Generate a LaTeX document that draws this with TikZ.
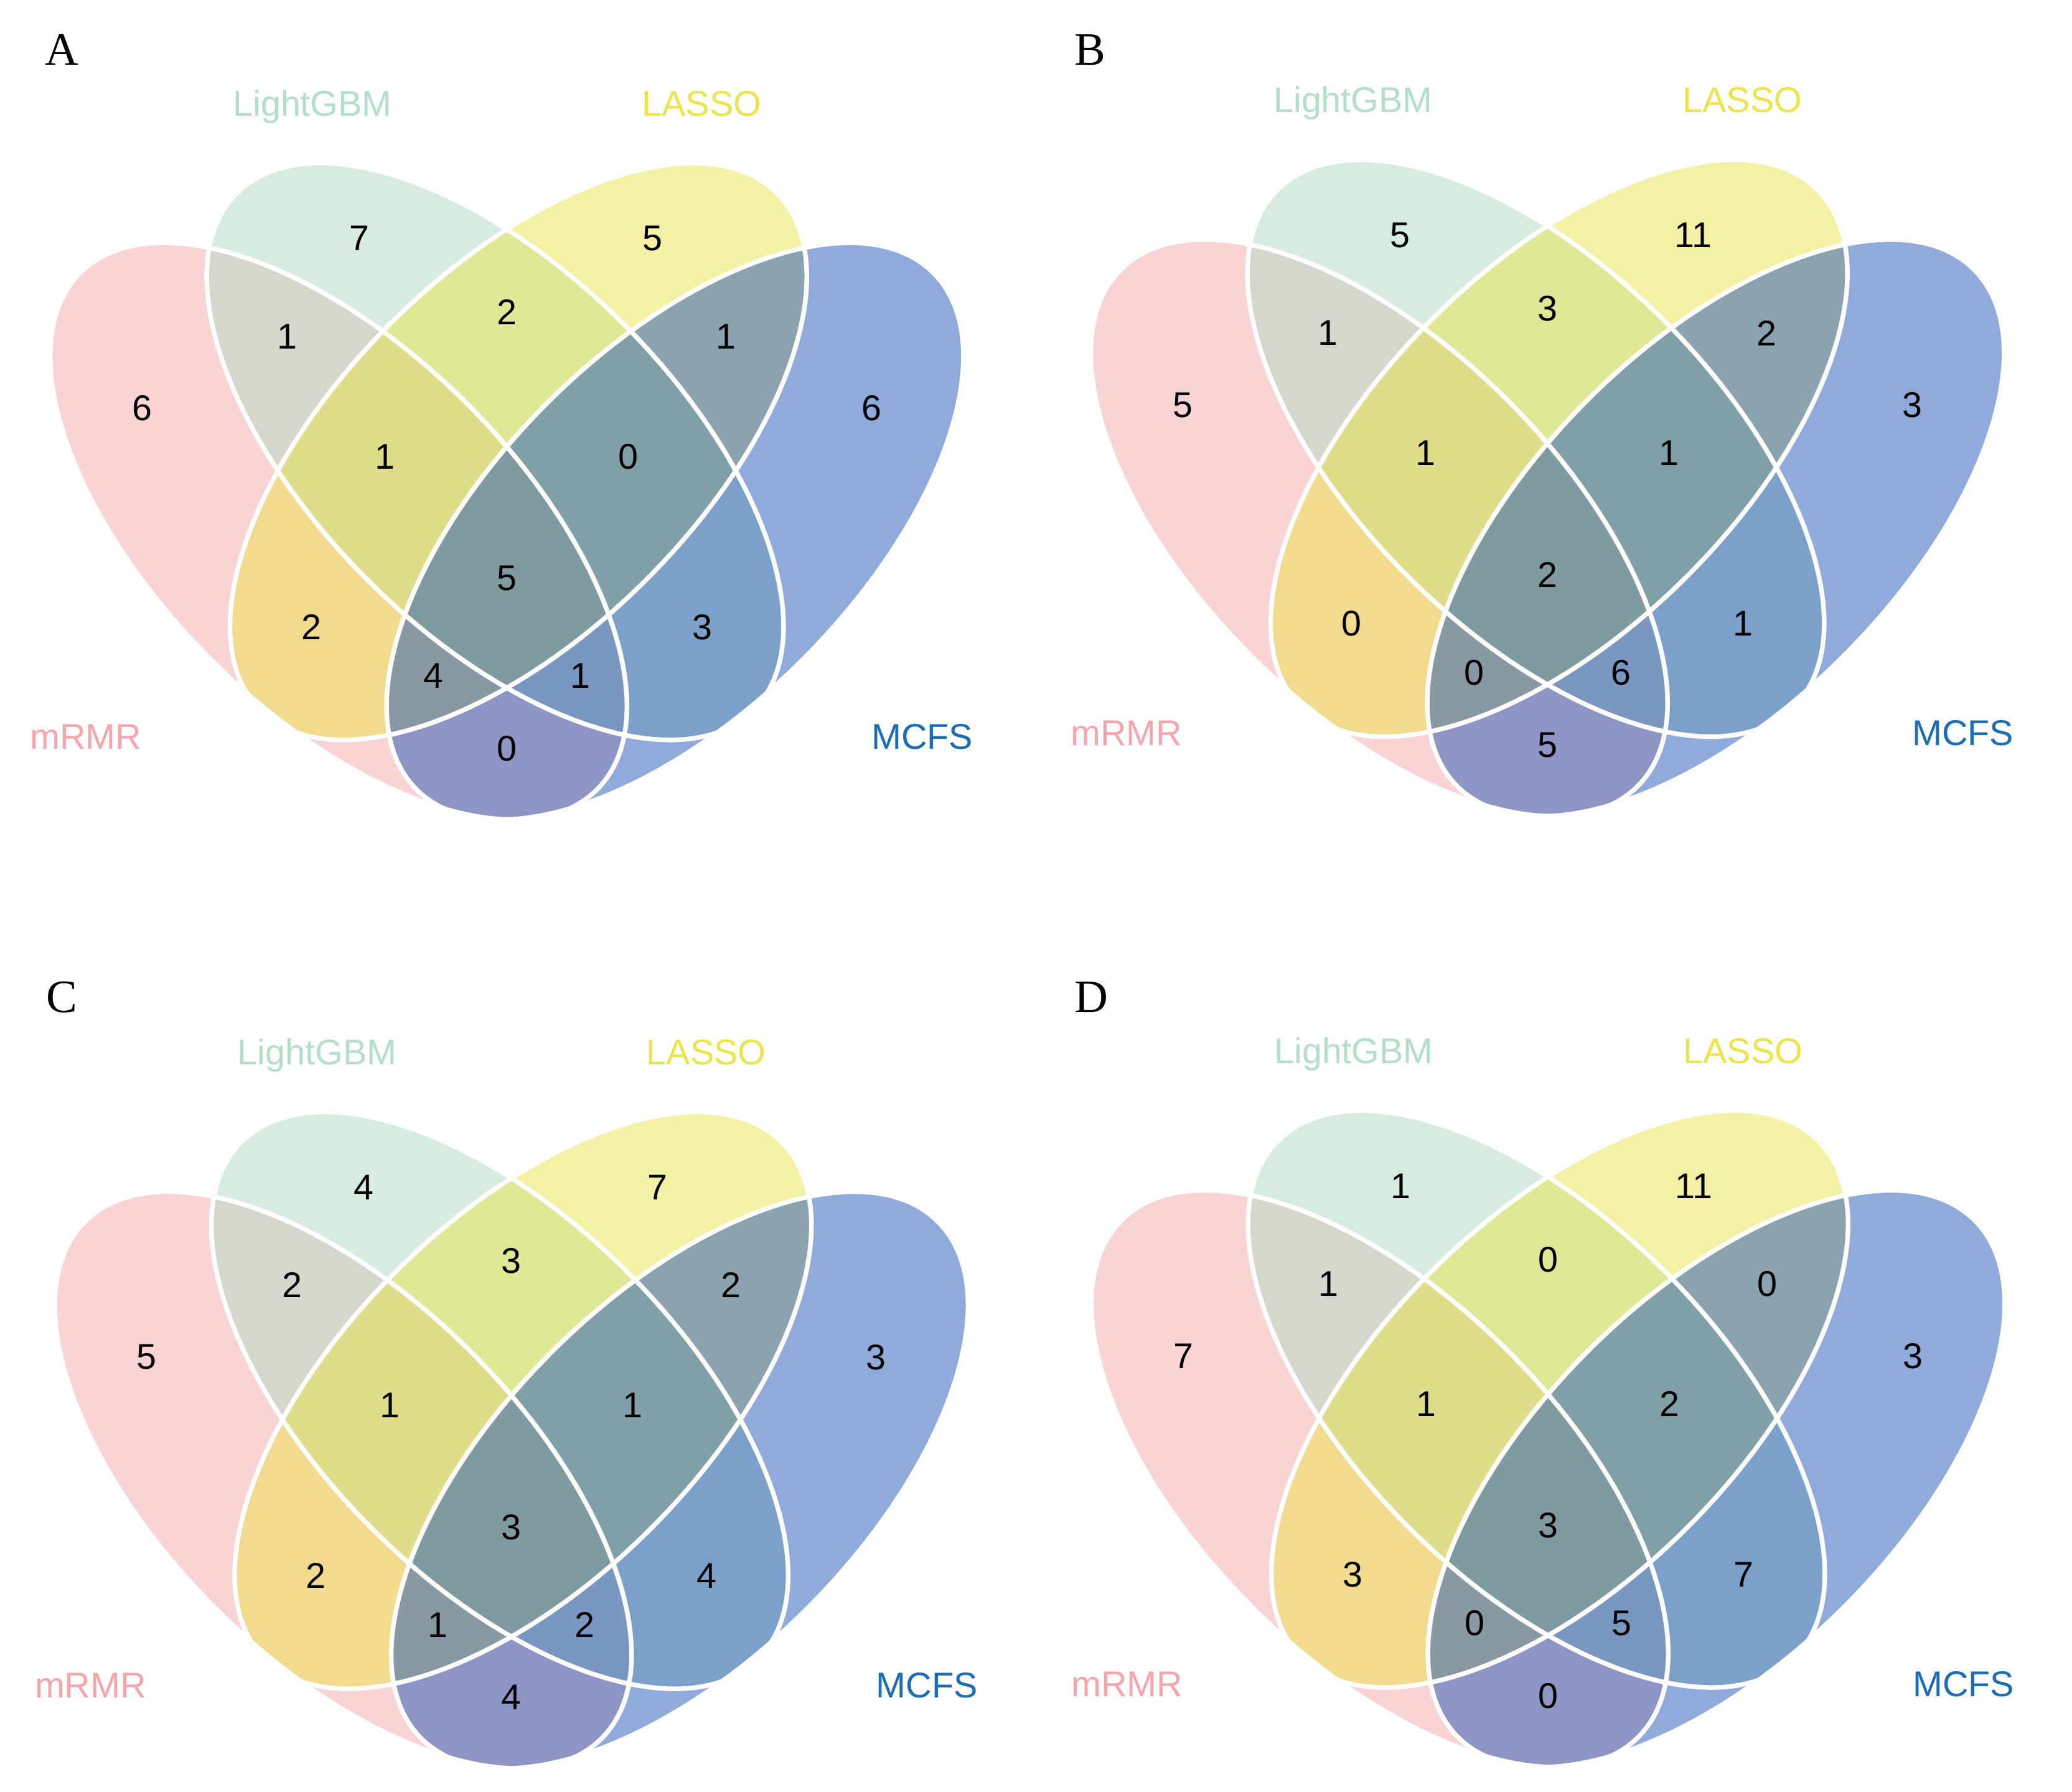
\documentclass[tikz,border=0pt]{standalone}
\usepackage{fontspec}
\setmainfont{Liberation Sans}
\newfontfamily\letterfont{Liberation Serif}
\usepackage{tikz}

\definecolor{mrmrfill}{HTML}{F7A9AB}
\definecolor{lgbmfill}{HTML}{AFDBC3}
\definecolor{lassofill}{HTML}{EBE34B}
\definecolor{mcfsfill}{HTML}{2258B8}
\definecolor{mrmrtext}{HTML}{F4A6AC}
\definecolor{lgbmtext}{HTML}{B3DFC9}
\definecolor{lassotext}{HTML}{ECE54A}
\definecolor{mcfstext}{HTML}{1B6DB4}

% #1,#2 shift, #3 letter, #4,#5 letter position, #6 region counts
\newcommand{\vennpanel}[6]{%
\begin{scope}[shift={(#1,#2)}]
% sets
\foreach \cx/\cy/\ang/\col in {256.2/402/-45/mrmrfill, 374.7/341.7/-45/lgbmfill,
    392.3/341.7/45/lassofill, 510.8/402/45/mcfsfill}
  \fill[setfill=\col, rotate around={\ang:(\cx,\cy)}] (\cx,\cy) ellipse [x radius=276.5, y radius=137];
\foreach \cx/\cy/\ang in {256.2/402/-45, 374.7/341.7/-45, 392.3/341.7/45, 510.8/402/45}
  \draw[setline, rotate around={\ang:(\cx,\cy)}] (\cx,\cy) ellipse [x radius=276.5, y radius=137];
% set names
\node[setname=lgbmtext] (#3-lgbm) at (236.5,87.7) {LightGBM};
\node[setname=lassotext] (#3-lasso) at (531,87.7) {LASSO};
\node[setname=mrmrtext] (#3-mrmr) at (65,566.7) {mRMR};
\node[setname=mcfstext] (#3-mcfs) at (698,566.7) {MCFS};
% region counts
\foreach \px/\py [count=\i] in {272/180.5, 494/180.5, 217.5/254.5, 383.5/236, 549.5/254.5,
    107.5/309, 291.5/345.5, 475.5/345.5, 659.5/309, 383.5/437.5,
    235.5/474.5, 531.5/474.5, 328/511.5, 439/511.5, 383.5/566.5}
  \coordinate (#3-r\i) at (\px,\py);
\foreach \val [count=\i] in {#6}
  \node[regioncount] (#3-n\i) at (#3-r\i) {\val};
\end{scope}
\node[panelletter] (#3) at (#4,#5) {#3};
}

\begin{document}
\begin{tikzpicture}[x=0.1mm, y=-0.1mm]
\tikzset{setfill/.style = {fill=#1, fill opacity=0.5}}
\tikzset{setline/.style = {draw=white, line width=1pt}}
\tikzset{setname/.style = {text=#1, anchor=base, inner sep=0pt, font=\fontsize{7.7}{9}\selectfont}}
\tikzset{regioncount/.style = {inner sep=0pt, font=\fontsize{7.7}{9}\selectfont}}
\tikzset{panelletter/.style = {anchor=base, inner sep=0pt, font=\letterfont\fontsize{10}{12}\selectfont}}
\fill[white] (0,0) rectangle (1568,1356);
\useasboundingbox (0,0) rectangle (1568,1356);
% panels
\vennpanel{0}{0}{A}{47}{49}{7,5,1,2,1,6,1,0,6,5,2,3,4,1,0}
\vennpanel{787.5}{-2.5}{B}{825}{49}{5,11,1,3,2,5,1,1,3,2,0,1,0,6,5}
\vennpanel{3.5}{718}{C}{47}{766}{4,7,2,3,2,5,1,1,3,3,2,4,1,2,4}
\vennpanel{788}{717}{D}{826}{766}{1,11,1,0,0,7,1,2,3,3,3,7,0,5,0}
\end{tikzpicture}
\end{document}
